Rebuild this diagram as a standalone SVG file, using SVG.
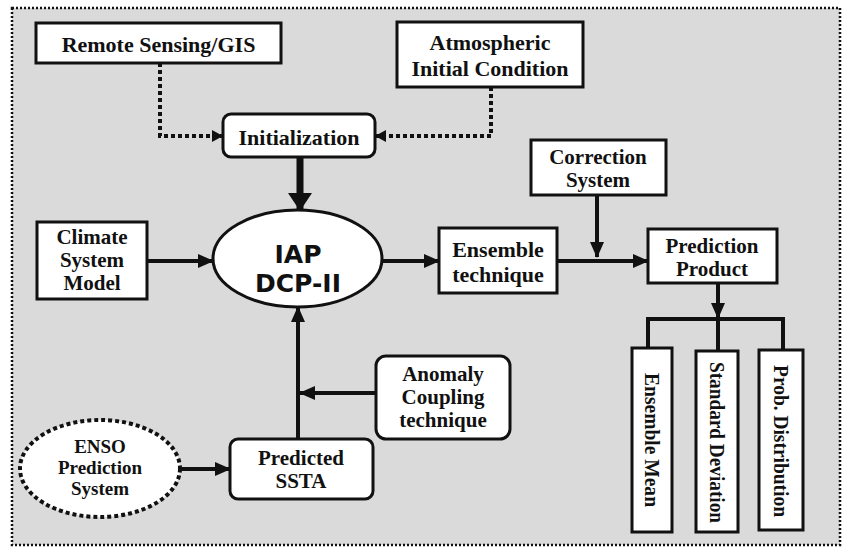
<svg xmlns="http://www.w3.org/2000/svg" width="845" height="548" viewBox="0 0 845 548">
<defs>
<style>
.bx{fill:#fff;stroke:#111;stroke-width:3}
.t{font-family:"Liberation Serif","Times New Roman",serif;font-weight:bold;font-size:22px;fill:#111;text-anchor:middle}
.m{font-size:21px}
.s{font-family:"DejaVu Sans",Verdana,sans-serif;font-weight:bold;font-size:25px;fill:#111;text-anchor:middle}
.ln{fill:none;stroke:#111;stroke-width:4}
.dl{fill:none;stroke:#111;stroke-width:4;stroke-dasharray:4 3}
</style>
<marker id="a" markerUnits="userSpaceOnUse" markerWidth="16" markerHeight="14" refX="15" refY="7" orient="auto"><path d="M0,0 L16,7 L0,14 z" fill="#111"/></marker>
<marker id="ab" markerUnits="userSpaceOnUse" markerWidth="18" markerHeight="24" refX="17" refY="12" orient="auto"><path d="M0,0 L18,12 L0,24 z" fill="#111"/></marker>
<marker id="as" markerUnits="userSpaceOnUse" markerWidth="11" markerHeight="12" refX="10" refY="6" orient="auto"><path d="M0,0 L11,6 L0,12 z" fill="#111"/></marker>
</defs>
<rect x="0" y="0" width="845" height="548" fill="#fff"/>
<rect x="12" y="8" width="828" height="537" fill="#dadada" stroke="#111" stroke-width="2.5" stroke-dasharray="2 2"/>
<g id="connectors">
<path class="dl" d="M160,63 V136 H222" marker-end="url(#as)"/>
<path class="dl" d="M491,87 V136 H376" marker-end="url(#as)"/>
<path class="ln" style="stroke-width:7" d="M300,157 V210" marker-end="url(#ab)"/>
<path class="ln" d="M147,261 H213" marker-end="url(#a)"/>
<path class="ln" d="M382,261 H439" marker-end="url(#a)"/>
<path class="ln" d="M557,261 H648" marker-end="url(#a)"/>
<path class="ln" d="M597,195 V257" marker-end="url(#a)"/>
<path class="ln" d="M718,283 V318" marker-end="url(#a)"/>
<path class="ln" d="M648,349 V319 H783 V350 M718,319 V351"/>
<path class="ln" d="M298,439 V307" marker-end="url(#a)"/>
<path class="ln" d="M376,393 H300" marker-end="url(#a)"/>
<path class="ln" d="M180,469 H230" marker-end="url(#a)"/>
</g>
<g id="remote"><rect class="bx" x="36" y="23" width="245" height="40"/><text class="t" x="158.5" y="52">Remote Sensing/GIS</text></g>
<g id="atmos"><rect class="bx" x="397" y="22" width="186" height="65"/><text class="t" x="490" y="50">Atmospheric</text><text class="t" x="490" y="76">Initial Condition</text></g>
<g id="init"><rect class="bx" x="223" y="114" width="152" height="43" rx="8"/><text class="t" x="299" y="145">Initialization</text></g>
<g id="correction"><rect class="bx" x="531" y="140" width="135" height="55"/><text class="t m" x="598" y="164">Correction</text><text class="t m" x="598" y="187">System</text></g>
<g id="climate"><rect class="bx" x="37" y="222" width="110" height="77"/><text class="t m" x="92" y="244">Climate</text><text class="t m" x="92" y="267">System</text><text class="t m" x="92" y="290">Model</text></g>
<g id="iap"><ellipse class="bx" cx="297.5" cy="258.5" rx="84.5" ry="48.5"/><text class="s" x="298" y="263">IAP</text><text class="s" x="298" y="292">DCP-II</text></g>
<g id="ensemble"><rect class="bx" x="439" y="228" width="118" height="65"/><text class="t" x="498" y="257">Ensemble</text><text class="t" x="498" y="282">technique</text></g>
<g id="product"><rect class="bx" x="648" y="229" width="129" height="54"/><text class="t m" x="712" y="253">Prediction</text><text class="t m" x="712" y="276">Product</text></g>
<g id="anomaly"><rect class="bx" x="376" y="356" width="134" height="83" rx="10"/><text class="t m" x="443" y="381">Anomaly</text><text class="t m" x="443" y="404">Coupling</text><text class="t m" x="443" y="427">technique</text></g>
<g id="ssta"><rect class="bx" x="230" y="439" width="143" height="60" rx="8"/><text class="t m" x="301" y="465">Predicted</text><text class="t m" x="301" y="488">SSTA</text></g>
<g id="enso"><ellipse cx="100" cy="468.5" rx="80" ry="48.5" fill="#fff" stroke="#111" stroke-width="4" stroke-dasharray="4 3"/><text class="t" style="font-size:19px" x="100" y="453">ENSO</text><text class="t" style="font-size:19px" x="100" y="474">Prediction</text><text class="t" style="font-size:19px" x="100" y="495">System</text></g>
<g id="mean"><rect class="bx" x="632" y="348" width="40" height="184"/><text class="t" transform="translate(652,440) rotate(90)" x="0" y="7" textLength="134" lengthAdjust="spacingAndGlyphs">Ensemble Mean</text></g>
<g id="stddev"><rect class="bx" x="696" y="351" width="42" height="181"/><text class="t" transform="translate(717,442.5) rotate(90)" x="0" y="7" textLength="161" lengthAdjust="spacingAndGlyphs">Standard Deviation</text></g>
<g id="probdist"><rect class="bx" x="759" y="350" width="44" height="180"/><text class="t" transform="translate(781,441) rotate(90)" x="0" y="7" textLength="152" lengthAdjust="spacingAndGlyphs">Prob. Distribution</text></g>
</svg>
